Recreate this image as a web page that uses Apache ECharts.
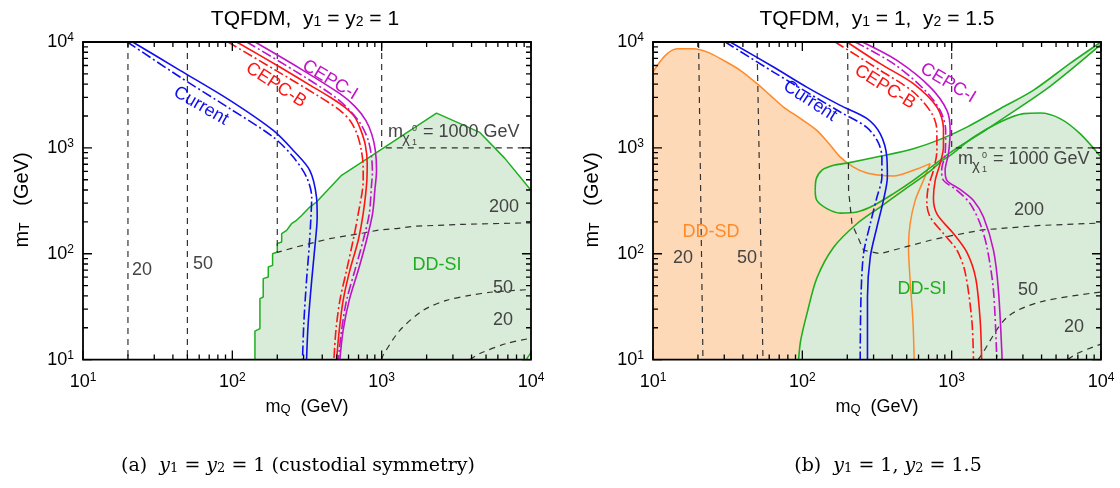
<!DOCTYPE html>
<html><head><meta charset="utf-8">
<script src="https://cdn.jsdelivr.net/npm/echarts@6/dist/echarts.min.js"></script>
<style>html,body{margin:0;padding:0;background:#fff}#c{width:1120px;height:488px}</style>
</head><body><div id="c"></div>
<script>
// ---------- axis ticks ----------
const MAJOR_TICKS = [10, 100, 1000, 10000];
const MINOR_TICKS = [20,30,40,50,60,70,80,90,200,300,400,500,600,700,800,900,2000,3000,4000,5000,6000,7000,8000,9000];

// ---------- panel (a): y1 = y2 = 1 ----------
const blueSolidA = [[21.5,10000],[44.6,5400],[96.4,2810],[188,1462],[256,946],[330,614],[366,343],[370,222],[357,116],[340,56.1],[322,21.9],[314,10]];
const blueDashA  = [[19.8,10000],[44.6,4670],[96.4,2345],[188,1265],[256,818],[314,530],[340,343],[336,222],[327,116],[314,56.1],[301,21.9],[295,10]];
const redSolidA  = [[107,10000],[208,5800],[348,3750],[450,3020],[568,2410],[662,1941],[726,1462],[778,1057],[800,714],[796,493],[752,239],[697,134],[612,69.7],[552,36.3],[520,18.9],[499,10]];
const redDashA   = [[93.5,10000],[193,5460],[385,3030],[525,2260],[612,1820],[682,1371],[731,946],[752,640],[752,493],[697,239],[644,134],[582,69.7],[525,36.3],[494,18.9],[479,10]];
const magSolidA  = [[142,10000],[283,5640],[525,3250],[662,2466],[783,1820],[859,1341],[907,946],[924,614],[900,397],[869,239],[792,134],[697,69.7],[606,36.3],[552,18.9],[525,10]];
const magDashA   = [[125,10000],[262,5340],[471,3130],[612,2260],[726,1668],[809,1203],[853,849],[867,587],[855,443],[826,239],[752,134],[662,69.7],[582,36.3],[539,18.9],[512,10]];
const ddsiA = [[141.7,10],[141.7,18.6],[153,19.6],[153,37.7],[161,39],[161,58.2],[174,60.3],[174,74.9],[186,77.6],[186,100],[200,104],[200,124.5],[214,129],[214,155],[231,166],[249,192],[269,207],[291,230],[330,276],[366,308],[539,551],[972,946],[2330,2130],[4540,1400],[6680,796],[10000,397]];
const ddsiCornerA = [[10000,11.7],[9300,10]];
const c20A   = [[20,10000],[20,10]];
const c20lowA = [[3900,10],[4540,11.4],[6850,14.2],[10000,15.9]];
const c50A   = [[50,10000],[50,10]];
const c50lowA = [[1000,10],[1023,11],[1324,18.9],[1897,29.2],[2716,36.3],[3890,40.4],[5570,43.5],[10000,46]];
const c200A  = [[200,10000],[200,103],[269,116],[450,139],[752,157],[973,168],[1259,173],[1626,181.6],[3516,189.6],[10000,196]];
const c1000A = [[1000,10000],[1000,1000],[10000,1000]];

// ---------- panel (b): y1 = 1, y2 = 1.5 ----------
const blueSolidB = [[32.9,10000],[64.1,5800],[107,3750],[179.5,2520],[270,1900],[332,1361],[368,818],[371,530],[349,319],[316,179],[285,93],[273,39],[273,10]];
const blueDashB  = [[30.5,10000],[64.1,5200],[179.5,2180],[270,1563],[322,1127],[341,818],[341,530],[316,343],[285,192],[257,100],[247,39],[244,10]];
const redSolidB  = [[199,10000],[332,6240],[554,4040],[796,2430],[881,1528],[881,1019],[837,710],[776,493],[755,334],[800,235],[1028,155],[1265,103],[1449,58.6],[1552,23.5],[1588,10]];
const redDashB   = [[166,10000],[332,5400],[554,3370],[737,2105],[796,1462],[796,946],[755,614],[697,427],[682,299],[718,222],[881,155],[1084,108],[1231,66.7],[1365,23.5],[1400,10]];
const magSolidB  = [[252,10000],[430,6700],[718,3750],[929,2260],[977,1462],[952,881],[904,614],[929,493],[1140,405],[1400,319],[1633,222],[1905,108],[2057,45.1],[2178,10]];
const magDashB   = [[226,10000],[408,6240],[647,3620],[837,2260],[912,1462],[904,881],[857,614],[881,493],[1084,397],[1331,297],[1552,192],[1722,116],[1905,45.1],[2005,10]];
const ddsdTopB   = [[10,5200],[12.1,7470],[14.5,8650],[18.7,8650],[23.4,7980],[29.7,6700],[38.4,5400],[49.7,4040],[61,3130],[74.8,2430],[96.8,1900],[125,1462],[154,1057],[179.5,818],[220,659],[268,581],[332,550],[408,542],[554,614],[718,710]];
const ddsdVertB  = [[718,710],[647,493],[570,319],[527,192],[514,116],[527,56.1],[550,23.5],[561,10]];
const ddsiUpperB = [[122,397],[124,512],[135,614],[162,684],[199,718],[332,832],[554,982],[837,1203],[1265,1571],[2113,2345],[3516,3490],[6210,6280],[10000,10000]];
const ddsiLowerB = [[122,397],[125,319],[146,267],[179.5,242],[232,248],[300,286],[408,370],[554,493],[755,684],[1028,946],[1552,1361],[2113,1820],[4560,3810],[10000,9480]];
const ddsiEdgeB  = [[94.4,10],[97.5,15.2],[107.4,27.2],[125,58.6],[162,115],[232,192],[332,276],[475,397],[682,570],[864,762]];
const ddsiDomeB  = [[864,762],[977,849],[1400,1265],[2113,1754],[3030,2105],[3910,2133],[5320,1888],[7240,1361],[10000,818]];
const c20B    = [[20.2,10000],[21.6,10]];
const c20lowB = [[6000,10],[6890,11.4],[10000,14]];
const c50B    = [[49.7,10000],[54.5,10]];
const c50lowB = [[1500,10],[1552,10.6],[2340,25],[3910,35],[10000,43.5]];
const c200B   = [[201,10000],[204,397],[215,192],[257,108],[332,100],[718,134],[1000,148],[1600,168],[3910,185],[10000,195]];
const c1000B  = [[1000,10000],[1000,1000],[10000,1000]];

// ---------- layout / styles ----------
const GRID_W = 448, GRID_H = 317.6;
const FONT = 'Liberation Sans, Arial, Helvetica, sans-serif';
const SERIF = 'DejaVu Serif, Liberation Serif, serif';
const BLUE = '#1010ee', RED = '#ff1414', MAG = '#c014c8', GREEN = '#1fae1f', GREENFILL = '#d9ebd9';
const ORANGE = '#ff8a2a', ORANGEFILL = '#fdd9b8', GRAY = '#333333', LGRAY = '#444444';
const DASHDOT = [10, 3, 2, 3], DASH = [6, 5];

const chart = echarts.init(document.getElementById('c'));

function lineS(gi, data, color, type, width, smooth, z, clip) {
  return {type: 'line', xAxisIndex: gi, yAxisIndex: gi, data: data, symbol: 'none', showSymbol: false,
    smooth: smooth || false, silent: true, z: z || 5, clip: clip !== false, connectNulls: false,
    lineStyle: {color: color, width: width || 1.6, type: type || 'solid'}};
}
function polyS(gi, pts, fill, z) {
  return {type: 'custom', xAxisIndex: gi, yAxisIndex: gi, data: [[10, 10]], silent: true, z: z || 1,
    renderItem: function (params, api) {
      const points = pts.map(p => api.coord(p));
      return {type: 'polygon', shape: {points: points}, style: {fill: fill}};
    }};
}
// tick marks on all four sides, as broken line series (length converted from px to log-decades)
function tickSeries(gi, vals, L) {
  const fy = Math.pow(10, 3 * L / GRID_H), fx = Math.pow(10, 3 * L / GRID_W);
  const bottom = [], top = [], left = [], right = [];
  vals.forEach(function (v) {
    bottom.push([v, 10], [v, 10 * fy], [v, '-']);
    top.push([v, 10000], [v, 10000 / fy], [v, '-']);
    left.push([10, v], [10 * fx, v], ['-', v]);
    right.push([10000, v], [10000 / fx, v], ['-', v]);
  });
  return [bottom, top, left, right].map(d => lineS(gi, d, '#000', 'solid', 1.3, false, 19, false));
}
function frameS(gi) {
  return {type: 'custom', xAxisIndex: gi, yAxisIndex: gi, data: [[10, 10]], z: 20,
    renderItem: function (params, api) {
      const p0 = api.coord([10, 10000]), p1 = api.coord([10000, 10]);
      return {type: 'rect', shape: {x: p0[0], y: p0[1], width: p1[0] - p0[0], height: p1[1] - p0[1]},
        style: {fill: null, stroke: '#000', lineWidth: 1.8}};
    }};
}
function axisLab(isX) {
  return {show: true, margin: isX ? 12 : 9,
    formatter: v => '{b|10}{s|' + Math.round(Math.log10(v)) + '}',
    rich: {b: {fontSize: 18, fontFamily: FONT, color: '#000', lineHeight: 20},
           s: {fontSize: 12, fontFamily: FONT, color: '#000', verticalAlign: 'top', lineHeight: 6}}};
}
function mkAxis(gi, isX) {
  return {type: 'log', logBase: 10, min: 10, max: 10000, gridIndex: gi,
    axisLine: {show: false}, axisTick: {show: false}, splitLine: {show: false},
    axisLabel: axisLab(isX)};
}

// ---------- text ----------
function T(x, y, text, o) {
  o = o || {};
  const st = {text: text, fill: o.color || '#000', fontSize: o.size || 18, fontFamily: o.family || FONT,
    align: o.align || 'center', verticalAlign: o.va || 'middle'};
  if (o.rich) st.rich = o.rich;
  return {type: 'text', x: x, y: y, rotation: o.rot || 0, z: 100, silent: true, style: st};
}
function sansRich(sz) {
  return {s: {fontSize: sz, fontFamily: FONT, fill: '#000', color: '#000', verticalAlign: 'bottom', lineHeight: 8}};
}
const SERIF_RICH = {
  i: {fontSize: 19, fontFamily: SERIF, fontStyle: 'italic', fill: '#000', color: '#000'},
  s: {fontSize: 13, fontFamily: SERIF, fill: '#000', color: '#000', verticalAlign: 'bottom', lineHeight: 8}};
const deg = Math.PI / 180;
function chiLabel(x, y) {
  return [
    T(x, y, 'm', {align: 'left', color: LGRAY}),
    T(x + 14, y + 7, 'χ', {align: 'left', color: LGRAY, size: 15}),
    T(x + 24, y - 3, '0', {align: 'left', color: LGRAY, size: 9}),
    T(x + 24, y + 11, '1', {align: 'left', color: LGRAY, size: 9}),
    T(x + 35, y, '= 1000 GeV', {align: 'left', color: LGRAY})
  ];
}
const graphics = [
  T(305, 19, 'TQFDM,  y{s|1} = y{s|2} = 1', {size: 21, rich: sansRich(14)}),
  T(877, 19, 'TQFDM,  y{s|1} = 1,  y{s|2} = 1.5', {size: 21, rich: sansRich(14)}),
  T(22, 200, 'm{s|T}   (GeV)', {size: 20, rot: 90 * deg, rich: sansRich(14)}),
  T(592, 200, 'm{s|T}   (GeV)', {size: 20, rot: 90 * deg, rich: sansRich(14)}),
  T(307, 407, 'm{s|Q}  (GeV)', {rich: sansRich(13)}),
  T(877, 407, 'm{s|Q}  (GeV)', {rich: sansRich(13)}),
  T(298, 466, '(a)  {i|y}{s|1} = {i|y}{s|2} = 1 (custodial symmetry)', {size: 19, family: SERIF, rich: SERIF_RICH}),
  T(888, 466, '(b)  {i|y}{s|1} = 1, {i|y}{s|2} = 1.5', {size: 19, family: SERIF, rich: SERIF_RICH}),
  T(142, 270, '20', {color: LGRAY}), T(203, 264, '50', {color: LGRAY}),
  T(504, 207, '200', {color: LGRAY}), T(503, 288, '50', {color: LGRAY}), T(503, 320, '20', {color: LGRAY}),
  T(437, 265, 'DD-SI', {color: GREEN}),
  T(201, 106, 'Current', {color: BLUE, rot: -30 * deg}),
  T(276, 85, 'CEPC-B', {color: RED, rot: -33 * deg}),
  T(330, 80, 'CEPC-I', {color: MAG, rot: -31 * deg}),
  T(711, 232, 'DD-SD', {color: ORANGE}),
  T(683, 258, '20', {color: LGRAY}), T(747, 258, '50', {color: LGRAY}),
  T(922, 289, 'DD-SI', {color: GREEN}),
  T(1029, 210, '200', {color: LGRAY}), T(1028, 290, '50', {color: LGRAY}), T(1074, 327, '20', {color: LGRAY}),
  T(810, 101, 'Current', {color: BLUE, rot: -33 * deg}),
  T(885, 87, 'CEPC-B', {color: RED, rot: -32 * deg}),
  T(948, 83, 'CEPC-I', {color: MAG, rot: -31 * deg})
].concat(chiLabel(388, 132), chiLabel(958, 159));

// ---------- series ----------
const ddsdFillB = [[10, 10]].concat(ddsdTopB, ddsdVertB.slice(1));
const ddsiLoopFillB = ddsiUpperB.concat(ddsiLowerB.slice(1).reverse());
const ddsiBigFillB = ddsiEdgeB.concat(ddsiDomeB.slice(1), [[10000, 10]]);
const ddsiFillA = ddsiA.concat(ddsiCornerA);

const S = 0.3;
const series = [
  polyS(0, ddsiFillA, GREENFILL, 1),
  polyS(1, ddsdFillB, ORANGEFILL, 1),
  polyS(1, ddsiBigFillB, GREENFILL, 2),
  polyS(1, ddsiLoopFillB, GREENFILL, 2),
  lineS(0, ddsiA, GREEN, 'solid', 1.5, false, 4),
  lineS(0, ddsiCornerA, GREEN, 'solid', 1.5, false, 4),
  lineS(0, c20A, GRAY, DASH, 1.2), lineS(0, c20lowA, GRAY, DASH, 1.2, S),
  lineS(0, c50A, GRAY, DASH, 1.2), lineS(0, c50lowA, GRAY, DASH, 1.2, S),
  lineS(0, c200A, GRAY, DASH, 1.2), lineS(0, c1000A, GRAY, DASH, 1.2),
  lineS(0, blueDashA, BLUE, DASHDOT, 1.6, S), lineS(0, blueSolidA, BLUE, 'solid', 1.6, S),
  lineS(0, redDashA, RED, DASHDOT, 1.6, S), lineS(0, redSolidA, RED, 'solid', 1.6, S),
  lineS(0, magDashA, MAG, DASHDOT, 1.6, S), lineS(0, magSolidA, MAG, 'solid', 1.6, S),
  lineS(1, ddsdTopB, ORANGE, 'solid', 1.5, S, 4), lineS(1, ddsdVertB, ORANGE, 'solid', 1.5, S, 4),
  lineS(1, ddsiUpperB, GREEN, 'solid', 1.6, S, 4), lineS(1, ddsiLowerB, GREEN, 'solid', 1.6, S, 4),
  lineS(1, ddsiEdgeB, GREEN, 'solid', 1.6, S, 4), lineS(1, ddsiDomeB, GREEN, 'solid', 1.6, S, 4),
  lineS(1, c20B, GRAY, DASH, 1.2), lineS(1, c20lowB, GRAY, DASH, 1.2, S),
  lineS(1, c50B, GRAY, DASH, 1.2), lineS(1, c50lowB, GRAY, DASH, 1.2, S),
  lineS(1, c200B, GRAY, DASH, 1.2), lineS(1, c1000B, GRAY, DASH, 1.2),
  lineS(1, blueDashB, BLUE, DASHDOT, 1.6, S), lineS(1, blueSolidB, BLUE, 'solid', 1.6, S),
  lineS(1, redDashB, RED, DASHDOT, 1.6, S), lineS(1, redSolidB, RED, 'solid', 1.6, S),
  lineS(1, magDashB, MAG, DASHDOT, 1.6, S), lineS(1, magSolidB, MAG, 'solid', 1.6, S)
].concat(
  tickSeries(0, MAJOR_TICKS, 9), tickSeries(0, MINOR_TICKS, 5),
  tickSeries(1, MAJOR_TICKS, 9), tickSeries(1, MINOR_TICKS, 5),
  [frameS(0), frameS(1)]
);

chart.setOption({
  animation: false,
  backgroundColor: '#fff',
  grid: [
    {left: 83, top: 42, width: GRID_W, height: GRID_H},
    {left: 653, top: 42, width: GRID_W, height: GRID_H}
  ],
  xAxis: [mkAxis(0, true), mkAxis(1, true)],
  yAxis: [mkAxis(0, false), mkAxis(1, false)],
  series: series,
  graphic: graphics
});
</script></body></html>
